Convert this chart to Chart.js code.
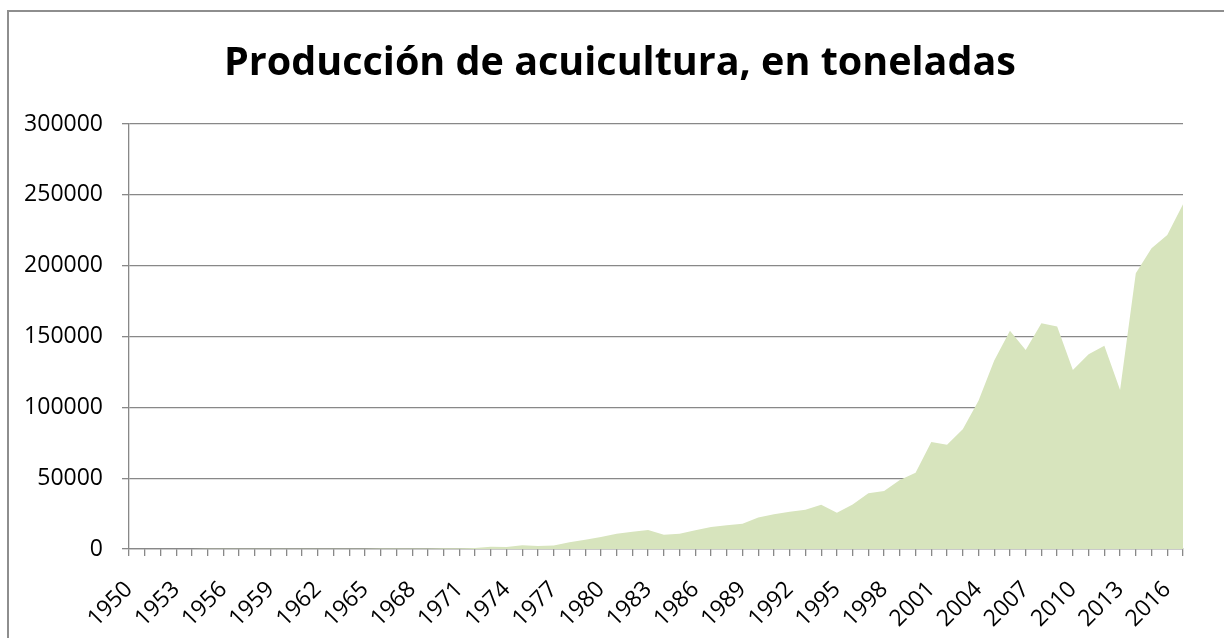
<!DOCTYPE html>
<html>
<head>
<meta charset="utf-8">
<script src="https://cdn.jsdelivr.net/npm/chart.js@4.4.1/dist/chart.umd.min.js"></script>
<style>
  html, body { margin: 0; padding: 0; background: #fff; overflow: hidden; }
  #wrap { position: relative; width: 1224px; height: 638px; overflow: hidden; }
  #frame { position: absolute; left: 7px; top: 10px; width: 1300px; height: 700px;
           border: 2px solid #8e8e8e; box-sizing: border-box; }
  #box { position: absolute; left: 0; top: 0; width: 1240px; height: 650px; }
</style>
</head>
<body>
<div id="wrap">
  <div id="frame"></div>
  <div id="box"><canvas id="aqua-chart"></canvas></div>
</div>
<script>
const years = [];
for (let y = 1950; y <= 2017; y++) years.push(String(y));

// toneladas por año
const production = [
  50, 60, 60, 80, 80, 100, 100, 120, 120, 150,          // 1950-1959
  150, 180, 200, 200, 250, 250, 300, 300, 350, 400,      // 1960-1969
  500, 600, 700, 1600, 1400, 2600, 2100, 2500, 4700, 6600, // 1970-1979
  8500, 10800, 12200, 13400, 10100, 10800, 13200, 15500, 16700, 17800, // 1980-1989
  22300, 24600, 26300, 27700, 31200, 25600, 31500, 39300, 41000, 48700, // 1990-1999
  53900, 75500, 73600, 84500, 104700, 133000, 154100, 140500, 159300, 157000, // 2000-2009
  126400, 137400, 143500, 112300, 194600, 212300, 221700, 243400 // 2010-2017
];
const yTicks = [0, 50000, 100000, 150000, 200000, 250000, 300000];

const font = "'Open Sans', 'Liberation Sans', sans-serif";
const axisGray = '#888888';

const ctx = document.getElementById('aqua-chart').getContext('2d');
new Chart(ctx, {
  type: 'line',
  data: {
    labels: years,
    datasets: [{
      label: 'Producción',
      data: production,
      fill: 'origin',
      backgroundColor: 'rgb(215, 228, 189)',
      borderWidth: 0,
      borderColor: 'rgba(0,0,0,0)',
      pointRadius: 0,
      tension: 0
    }]
  },
  options: {
    responsive: true,
    maintainAspectRatio: false,
    animation: false,
    layout: { padding: 0 },
    plugins: {
      legend: { display: false },
      tooltip: { enabled: false },
      title: {
        display: true,
        text: 'Producción de acuicultura, en toneladas',
        color: '#000',
        font: { family: font, size: 39.5, weight: 'bold', lineHeight: 1.2 },
        padding: { top: 40, bottom: 36.6 }
      }
    },
    scales: {
      x: {
        offset: false,
        grid: { drawOnChartArea: false, drawTicks: true, tickLength: 7, color: axisGray, lineWidth: 1.3 },
        border: { display: true, color: axisGray, width: 1.3 },
        ticks: {
          autoSkip: false,
          maxRotation: 45,
          minRotation: 45,
          padding: 20,
          color: '#000',
          font: { family: font, size: 23 },
          callback: function (val, i) { return i % 3 === 0 ? years[i] : ''; }
        },
        afterFit: function (s) { s.height = 650 - 549; }
      },
      y: {
        min: 0,
        max: 300000,
        afterBuildTicks: function (s) { s.ticks = yTicks.map(v => ({ value: v })); },
        grid: { color: axisGray, lineWidth: 1.3, tickLength: 7 },
        border: { display: true, color: axisGray, width: 1.3 },
        ticks: {
          padding: 19,
          color: '#000',
          font: { family: font, size: 23 },
          callback: v => String(v)
        },
        afterFit: function (s) { s.width = 129; }
      },
      // empty right-hand spacer so the title centres on the frame
      spacer: {
        type: 'linear',
        position: 'right',
        display: true,
        grid: { display: false, drawTicks: false },
        border: { display: false },
        ticks: { display: false },
        afterFit: function (s) { s.width = 1240 - 1183; }
      }
    }
  }
});
</script>
</body>
</html>
